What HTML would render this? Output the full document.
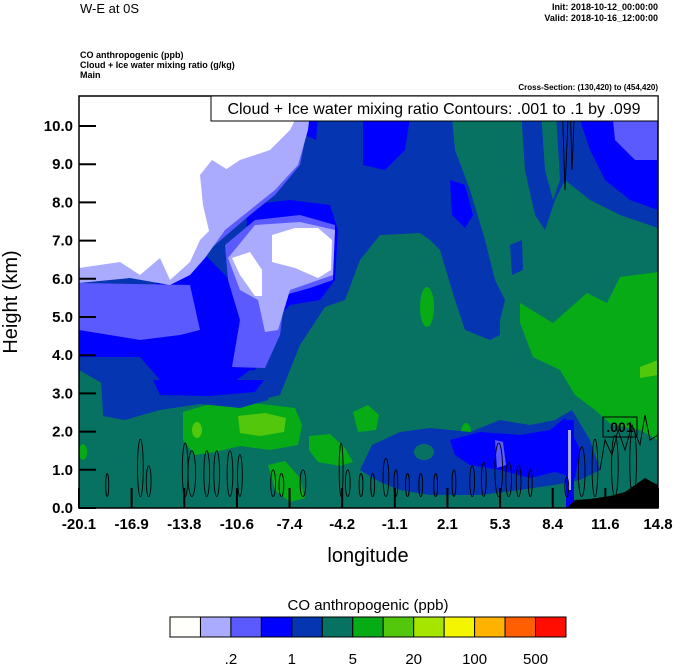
<!DOCTYPE html>
<html><head><meta charset="utf-8"><style>
html,body{margin:0;padding:0;background:#fff;}
svg{display:block;font-family:"Liberation Sans",sans-serif;}
</style></head><body>
<svg id="chart" width="674" height="667" viewBox="0 0 674 667" xmlns="http://www.w3.org/2000/svg">
<text x="80" y="13" font-size="13">W-E at 0S</text>
<text x="658" y="10" font-size="9" font-weight="bold" text-anchor="end">Init: 2018-10-12_00:00:00</text>
<text x="658" y="21" font-size="9" font-weight="bold" text-anchor="end">Valid: 2018-10-16_12:00:00</text>
<text x="80" y="58" font-size="9" font-weight="bold">CO anthropogenic   (ppb)</text>
<text x="80" y="68" font-size="9" font-weight="bold">Cloud + Ice water mixing ratio   (g/kg)</text>
<text x="80" y="78" font-size="9" font-weight="bold">Main</text>
<text x="658" y="90" font-size="8" font-weight="bold" text-anchor="end">Cross-Section: (130,420) to (454,420)</text>
<defs><clipPath id="pc"><rect x="79" y="96" width="579" height="412"/></clipPath></defs>
<g id="field" clip-path="url(#pc)">
<rect x="79" y="96" width="579" height="412" fill="#077262"/>
<path fill="#0535b0" d="M79,96 L360,96 L450,96 L455,150 L470,190 L485,240 L495,280 L505,300 L500,320 L500,335 L490,340 L465,330 L455,300 L440,250 L430,240 L420,233 L380,235 L360,260 L345,300 L325,307 L300,345 L280,395 L240,405 L200,398 L170,405 L150,400 L120,395 L100,382 L79,370 Z"/>
<path fill="#0000ff" d="M363,120 L410,118 L405,150 L385,170 L363,165 Z"/>
<path fill="#0000ff" d="M450,180 L465,185 L473,215 L465,228 L452,215 Z"/>
<path fill="#0000ff" d="M300,96 L320,96 L316,140 L305,135 Z"/>
<path fill="#0000ff" d="M79,328 L150,330 L160,255 L200,250 L230,280 L250,300 L250,370 L230,385 L200,390 L170,392 L160,380 L140,357 L100,357 L79,357 Z"/>
<path fill="#0000ff" d="M247,205 L290,200 L330,205 L338,230 L335,280 L320,300 L290,305 L275,320 L270,350 L255,370 L230,372 L235,330 L245,290 Z"/>
<path fill="#5a5aff" d="M79,280 L130,278 L170,285 L195,260 L215,245 L250,215 L275,195 L300,165 L305,140 L303,96 L79,96 Z"/>
<path fill="#5a5aff" d="M79,283 L190,285 L200,330 L180,335 L140,340 L79,330 Z"/>
<path fill="#5a5aff" d="M225,245 L255,220 L300,215 L335,225 L333,280 L310,288 L285,295 L280,335 L265,368 L232,367 L240,320 L228,280 Z"/>
<path fill="#aaaaff" d="M79,96 L312,96 L308,130 L298,165 L275,190 L250,210 L225,230 L205,258 L190,275 L170,285 L130,278 L79,283 Z"/>
<path fill="#aaaaff" d="M228,258 L255,225 L300,222 L335,230 L333,275 L310,283 L290,290 L278,330 L265,332 L258,300 L240,290 Z"/>
<path fill="#ffffff" d="M79,96 L303,96 L300,110 L290,130 L270,150 L240,160 L225,170 L212,185 L210,230 L200,240 L190,262 L170,280 L160,258 L140,275 L120,262 L79,268 Z"/>
<path fill="#aaaaff" d="M200,175 L212,160 L228,170 L232,200 L222,235 L210,235 L203,205 Z"/>
<path fill="#ffffff" d="M272,235 L295,228 L318,228 L332,240 L331,270 L318,278 L295,268 L272,262 Z"/>
<path fill="#ffffff" d="M232,258 L250,252 L262,270 L262,296 L255,296 L240,275 Z"/>
<path fill="#0535b0" d="M520,96 L658,96 L658,228 L620,215 L590,200 L565,180 L555,200 L545,230 L535,215 L525,170 Z"/>
<path fill="#0000ff" d="M573,96 L658,96 L658,210 L630,200 L605,180 L590,150 L580,120 Z"/>
<path fill="#5a5aff" d="M610,96 L658,96 L658,160 L635,160 L615,140 L612,110 Z"/>
<path fill="#077262" d="M540,96 L555,96 L560,180 L553,200 L545,170 Z"/>
<path fill="#0535b0" d="M510,245 L522,240 L523,270 L512,275 Z"/>
<path fill="#06ab16" d="M520,303 L553,323 L587,293 L607,303 L620,277 L658,272 L658,440 L640,430 L612,425 L595,410 L575,395 L560,370 L533,357 L520,323 Z"/>
<path fill="#52c70c" d="M640,367 L658,360 L658,392 L640,390 Z"/>
<ellipse fill="#06ab16" cx="427" cy="307" rx="7" ry="20"/>
<path fill="#06ab16" d="M183,412 L210,404 L240,402 L270,405 L295,408 L302,425 L298,445 L270,450 L240,446 L215,452 L195,455 L183,440 Z"/>
<path fill="#52c70c" d="M238,416 L265,413 L286,418 L284,432 L260,436 L240,433 Z"/>
<ellipse fill="#52c70c" cx="197" cy="430" rx="5" ry="8"/>
<path fill="#06ab16" d="M353,412 L368,405 L379,415 L376,430 L358,432 Z"/>
<path fill="#06ab16" d="M309,436 L330,434 L345,448 L353,462 L340,466 L318,462 L309,450 Z"/>
<path fill="#06ab16" d="M268,465 L285,461 L300,478 L305,498 L290,502 L275,490 Z"/>
<ellipse fill="#06ab16" cx="83" cy="452" rx="4" ry="8"/>
<ellipse fill="#06ab16" cx="466" cy="433" rx="5" ry="10"/>
<path fill="#06ab16" d="M600,380 L640,378 L658,375 L658,410 L640,418 Z"/>
<path fill="#0535b0" d="M101,380 L272,380 L268,400 L240,408 L200,404 L160,410 L125,420 L103,416 Z"/>
<path fill="#0000ff" d="M153,380 L264,380 L255,392 L210,396 L160,395 Z"/>
<path fill="#0535b0" d="M360,470 L372,445 L400,432 L430,428 L470,432 L500,420 L530,425 L555,420 L572,410 L590,440 L600,470 L580,480 L560,484 L520,490 L480,495 L430,495 L400,490 L380,482 Z"/>
<path fill="#0000ff" d="M450,440 L480,432 L520,435 L550,430 L565,418 L580,450 L575,478 L555,472 L530,478 L500,470 L470,465 L455,455 Z"/>
<path fill="#5a5aff" d="M495,440 L503,442 L506,465 L497,468 Z"/>
<path fill="#0000ff" d="M566,420 L574,420 L574,508 L566,508 Z"/>
<path fill="#aaaaff" d="M568,430 L571,430 L571,490 L568,490 Z"/>
<ellipse fill="#077262" cx="424" cy="452" rx="10" ry="8"/>
<path fill="#000" d="M567,508 L575,500 L590,499 L610,496 L625,492 L635,485 L645,478 L652,482 L658,485 L658,508 Z"/>
</g>
<g id="contours" fill="none" stroke="#000" stroke-width="0.9" clip-path="url(#pc)"></g>
<g>
<rect x="603" y="417" width="34" height="20" fill="none" stroke="#000"/>
<text x="620" y="432" font-size="14" font-weight="bold" text-anchor="middle">.001</text>
</g>
<g id="axes"></g>
<rect x="79" y="96" width="579" height="412" fill="none" stroke="#000" stroke-width="1.5"/>
<g>
<rect x="211" y="96" width="447" height="25" fill="#fff" stroke="#000"/>
<text x="434" y="114" font-size="16" text-anchor="middle">Cloud + Ice water mixing ratio Contours: .001 to .1 by .099</text>
</g>
<text transform="translate(17,302) rotate(-90)" font-size="20" text-anchor="middle">Height (km)</text>
<text x="368" y="562" font-size="20" text-anchor="middle">longitude</text>
<text x="368" y="610" font-size="15" text-anchor="middle">CO anthropogenic  (ppb)</text>
<g id="colorbar"></g>
<script>
const yTicks=[0,1,2,3,4,5,6,7,8,9,10];
const xTickLabels=["-20.1","-16.9","-13.8","-10.6","-7.4","-4.2","-1.1","2.1","5.3","8.4","11.6","14.8"];
const cbColors=["#fffffb","#aaaaff","#5a5aff","#0000ff","#0535b0","#077262","#06ab16","#52c70c","#a6e500","#f4f600","#ffb300","#ff5f00","#ff0d00"];
const cbLabels=[".2","1","5","20","100","500"];
const cbLabelIdx=[2,4,6,8,10,12];
const contourLon=[-18.4,-16.4,-15.9,-13.7,-13.3,-12.4,-11.8,-11.0,-10.4,-8.4,-7.9,-6.6,-4.3,-3.9,-3.1,-2.4,-1.6,-1.0,-0.3,0.5,1.4,2.5,3.6,4.3,5.2,5.8,6.4,7.1,9.3,10.2,11.0,12.2,13.3];
const contourH=[0.6,1.5,0.8,1.4,1.2,1.2,1.2,1.2,1.1,0.7,0.6,0.7,1.4,0.7,0.6,0.6,1.0,0.7,0.6,0.6,0.6,0.7,0.8,0.9,1.4,0.9,0.8,0.7,0.5,1.3,1.5,1.6,1.8];
const contourR=[0.3,0.6,0.5,0.6,0.8,0.6,0.6,0.6,0.5,0.5,0.5,0.6,0.4,0.5,0.4,0.4,0.6,0.4,0.4,0.4,0.4,0.4,0.5,0.5,0.8,0.6,0.5,0.4,0.4,0.7,0.6,0.7,0.7];
const NS="http://www.w3.org/2000/svg";
const X0=79,X1=658,Y0=508,PXKM=38.2;
const lonMin=-20.1,lonMax=14.8;
function xs(l){return X0+(l-lonMin)/(lonMax-lonMin)*(X1-X0);}
function ys(h){return Y0-h*PXKM;}
const ax=document.getElementById('axes');
function mk(tag,at,parent){const e=document.createElementNS(NS,tag);for(const k in at)e.setAttribute(k,at[k]);parent.appendChild(e);return e;}
yTicks.forEach(v=>{
 const l=mk('line',{x1:X0,x2:X0+17,y1:ys(v),y2:ys(v),stroke:'#000','stroke-width':2},ax);
 
 
 const t=mk('text',{x:X0-6,y:ys(v)+5,'font-size':15,'font-weight':'bold','text-anchor':'end'},ax);
 t.textContent=v.toFixed(1);
 
 
});
xTickLabels.forEach((s,i)=>{
 const x=X0+i*(X1-X0)/(xTickLabels.length-1);
 const l=mk('line',{x1:x,x2:x,y1:Y0,y2:Y0-20,stroke:'#000','stroke-width':2},ax);
 
 
 const t=mk('text',{x:x,y:Y0+21,'font-size':15,'font-weight':'bold','text-anchor':'middle'},ax);
 t.textContent=s;
 
 
});
const cg=document.getElementById('contours');
contourLon.forEach((l,i)=>{
 const cx=xs(l),cy=ys(contourH[i]/2+0.3),ry=contourH[i]/2*PXKM,rx=contourR[i]*PXKM/8;
 const e=mk('ellipse',{cx:cx,cy:cy,rx:Math.max(rx,1.5),ry:Math.max(ry,4)},cg);
 
 
});
const topC=mk('path',{d:'M562,96 L565,190 L569,96 M570,96 L572,170 L575,96'},cg);


const rw=mk('path',{d:'M600,470 L605,440 L612,455 L618,430 L625,450 L632,425 L640,445 L645,415 L650,440 L658,435'},cg);


const cb=document.getElementById('colorbar');
const CB0=170,CB1=566,bw=(CB1-CB0)/cbColors.length;
cbColors.forEach((c,i)=>{
 const r=mk('rect',{x:CB0+i*bw,y:617,width:bw,height:20,fill:c,stroke:'#000','stroke-width':1},cb);
 
 
});
cbLabels.forEach((s,i)=>{
 const t=mk('text',{x:CB0+cbLabelIdx[i]*bw,y:664,'font-size':15,'text-anchor':'middle'},cb);
 t.textContent=s;
 
 
});
</script>
</svg>
</body></html>
